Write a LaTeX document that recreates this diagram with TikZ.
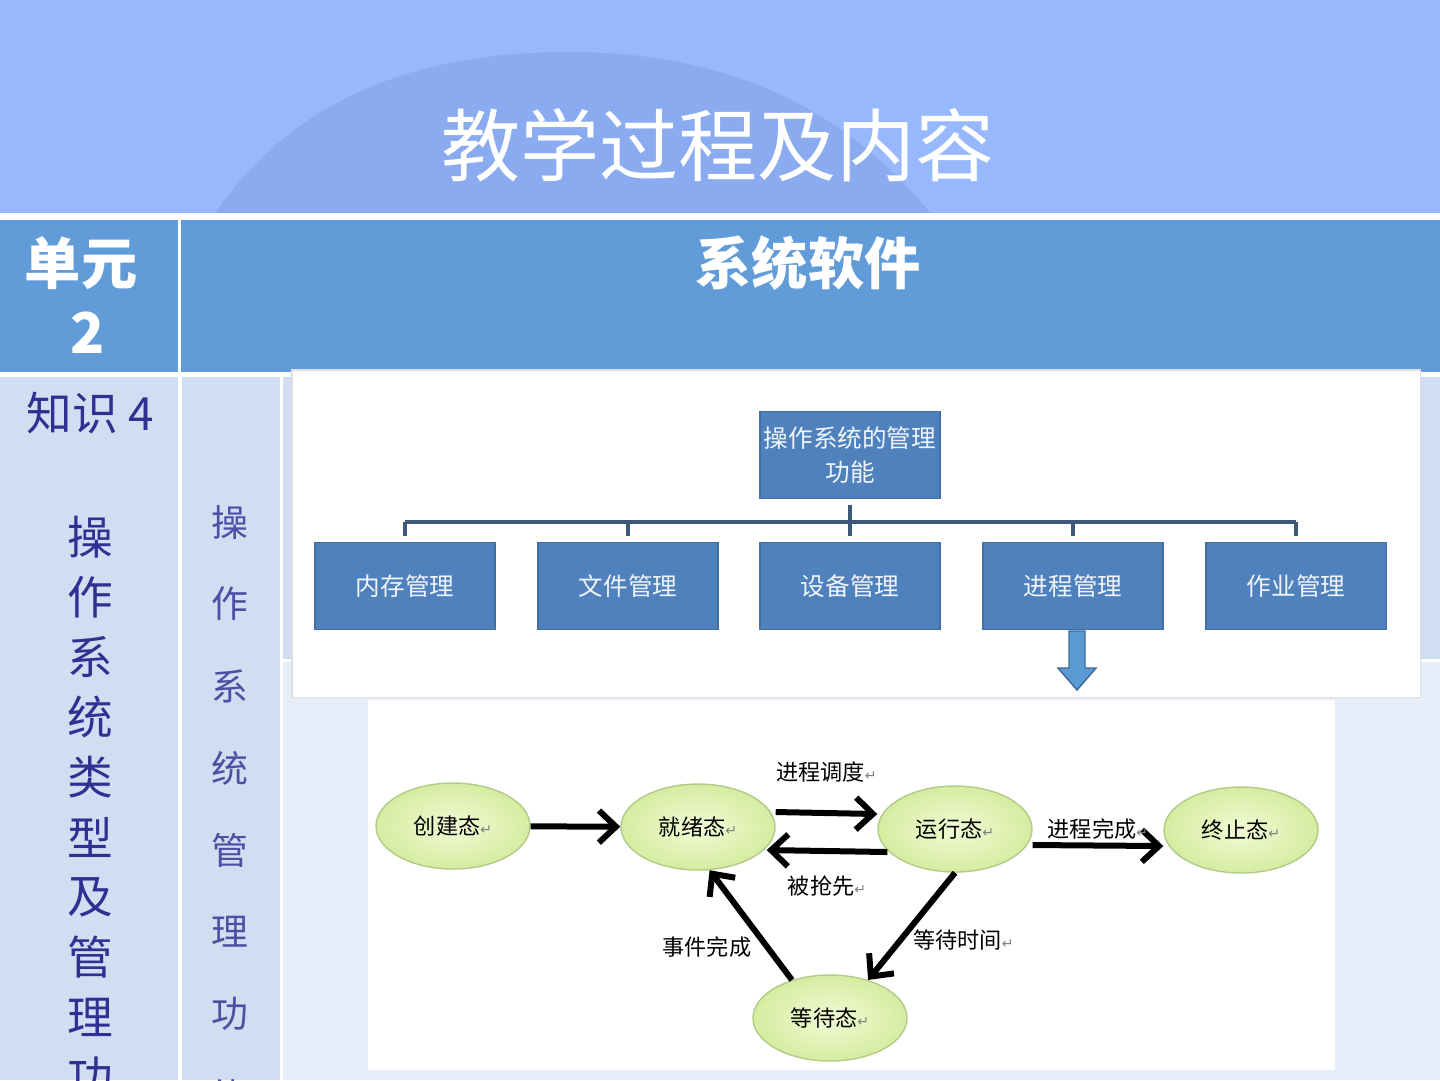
\documentclass[tikz,border=0pt]{standalone}
\usepackage{fontspec}
\setmainfont{Noto Sans CJK SC}
\newfontfamily\symfont{DejaVu Sans}
\usetikzlibrary{positioning,arrows.meta,shapes.geometric}

% Colori
\definecolor{headbg}{RGB}{151,184,253}
\definecolor{headarc}{RGB}{139,171,241}
\definecolor{rowblue}{RGB}{98,156,216}
\definecolor{cellpale}{RGB}{208,222,242}
\definecolor{cellpaler}{RGB}{230,237,248}
\definecolor{textnavy}{RGB}{46,49,146}
\definecolor{boxblue}{RGB}{79,129,189}
\definecolor{busgray}{RGB}{62,88,122}
\definecolor{ellin}{RGB}{242,250,214}
\definecolor{ellout}{RGB}{214,236,160}
\definecolor{ellline}{RGB}{176,204,136}
\definecolor{arrowblue}{RGB}{91,155,213}

\newcommand{\retmark}{{\symfont\fontsize{4pt}{4pt}\selectfont\color{gray}↵}}

\begin{document}
\begin{tikzpicture}[x=0.1mm, y=-0.1mm,
    % Stili per i testi della tabella
    titletext/.style={text=white, font=\fontsize{22.5}{24}\selectfont, inner sep=0pt},
    headtext/.style={text=white, font=\fontsize{16}{18}\selectfont\bfseries, inner sep=0pt},
    sidetext/.style={text=textnavy, font=\fontsize{13}{14}\selectfont, inner sep=0pt},
    sidesmall/.style={text=textnavy!85, font=\fontsize{10.5}{12}\selectfont, inner sep=0pt},
    % Stili per l'organigramma
    orgbox/.style={
        rectangle,
        fill=boxblue,
        draw=boxblue!85!black,
        line width=0.3pt,
        minimum width=18mm,
        minimum height=8.7mm,
        inner sep=0pt,
        align=center,
        text=white!92!boxblue,
        font=\fontsize{7}{9.5}\selectfont
    },
    bus/.style={draw=busgray, line width=0.9pt},
    blockarrow/.style={fill=arrowblue, draw=boxblue!80!black, line width=0.4pt},
    % Stili per gli stati
    state/.style={
        ellipse,
        inner color=ellin,
        outer color=ellout,
        draw=ellline,
        line width=0.4pt,
        minimum width=15.4mm,
        minimum height=8.6mm,
        inner sep=0pt,
        font=\fontsize{6.3}{7}\selectfont
    },
    flow/.style={line width=0.6mm, -{Straight Barb[length=1.7mm,width=3.2mm]}},
    edgelabel/.style={font=\fontsize{6.3}{7}\selectfont, inner sep=0pt}
]
\path[use as bounding box, clip] (0,0) rectangle (1440,1080);

% Intestazione
\fill[headbg] (0,0) rectangle (1440,213);
\fill[headarc] (215,213) .. controls (300,90) and (430,52) .. (570,52)
    .. controls (700,52) and (830,90) .. (930,213) -- cycle;
\fill[white] (0,213) rectangle (1440,220);
\node[titletext] (title) at (718,145) {教学过程及内容};

% Tabella
\fill[white] (0,220) rectangle (1440,1080);
\fill[rowblue] (0,220) rectangle (178,372);
\fill[rowblue] (181,220) rectangle (1440,372);
\fill[cellpale] (0,377) rectangle (178,1080);
\fill[cellpale] (182,377) rectangle (280,1080);
\fill[cellpale] (283,377) rectangle (1440,659);
\fill[cellpaler] (283,662) rectangle (1440,1080);

\node[headtext] (unit) at (81,263) {单元};
\node[headtext] (unitnum) at (88,333) {2};
\node[headtext] (subject) at (808,263) {系统软件};
\node[sidetext] (know) at (90,413) {知识 4};

% Testo verticale
\foreach \ch [count=\i from 0] in {操,作,系,统,类,型,及,管,理,功} {
    \node[sidetext] (sideA-\i) at (90,{537+60*\i}) {\ch};
}
\foreach \ch [count=\i from 0] in {操,作,系,统,管,理,功,能} {
    \node[sidesmall] (sideB-\i) at (230,{522+82*\i}) {\ch};
}

% Riquadro 1: funzioni di gestione
\fill[white] (292,370) rectangle (1420,697);
\draw[gray!25, line width=0.3pt] (292,370) rectangle (1420,697);

\node[orgbox] (topfun) at (850,455) {操作系统的管理\\功能};
\node[orgbox] (neicun) at (405,586) {内存管理};
\node[orgbox] (wenjian) at (628,586) {文件管理};
\node[orgbox] (shebei) at (850,586) {设备管理};
\node[orgbox] (jincheng) at (1073,586) {进程管理};
\node[orgbox] (zuoye) at (1296,586) {作业管理};

\coordinate (busy) at (850,522);
\draw[bus, shorten <=0.6mm, shorten >=0.6mm] (topfun.south) -- (shebei.north);
\draw[bus] (neicun.north |- busy) -- (zuoye.north |- busy);
\foreach \c in {neicun, wenjian, jincheng, zuoye} {
    \draw[bus, shorten <=0.6mm] (\c.north) -- (\c.north |- busy);
}

\draw[blockarrow] (1069,631) -- (1085,631) -- (1085,668) -- (1096,668)
    -- (1077,690) -- (1058,668) -- (1069,668) -- cycle;

% Riquadro 2: stati del processo
\fill[white] (368,700) rectangle (1335,1070);

\node[state] (chuangjian) at (453,826) {创建态\retmark};
\node[state] (jiuxu) at (698,827) {就绪态\retmark};
\node[state] (yunxing) at (955,829) {运行态\retmark};
\node[state] (zhongzhi) at (1241,830) {终止态\retmark};
\node[state] (dengdai) at (830,1018) {等待态\retmark};

\draw[flow] (chuangjian) -- (jiuxu);
\draw[flow] ([yshift=1.5mm]jiuxu.east) --
    node[edgelabel, above=2.8mm] (lsched) {进程调度\retmark} ([yshift=1.5mm]yunxing.west);
\draw[flow] ([xshift=1mm,yshift=-2.3mm]yunxing.west) --
    node[edgelabel, below=2.2mm] (lpre) {被抢先\retmark} ([xshift=-0.9mm,yshift=-2.3mm]jiuxu.east);
\draw[flow] ([yshift=-1.6mm]yunxing.east) --
    node[edgelabel, above=0.3mm] (lend) {进程完成\retmark} ([yshift=-1.6mm]zhongzhi.west);
\draw[flow] (yunxing.south) --
    node[edgelabel, pos=0.63, right=1mm] (lwait) {等待时间\retmark} (dengdai.45);
\draw[flow] (dengdai.135) --
    node[edgelabel, pos=0.3, left=1.3mm] (levent) {事件完成} (jiuxu.-75);

\end{tikzpicture}
\end{document}
